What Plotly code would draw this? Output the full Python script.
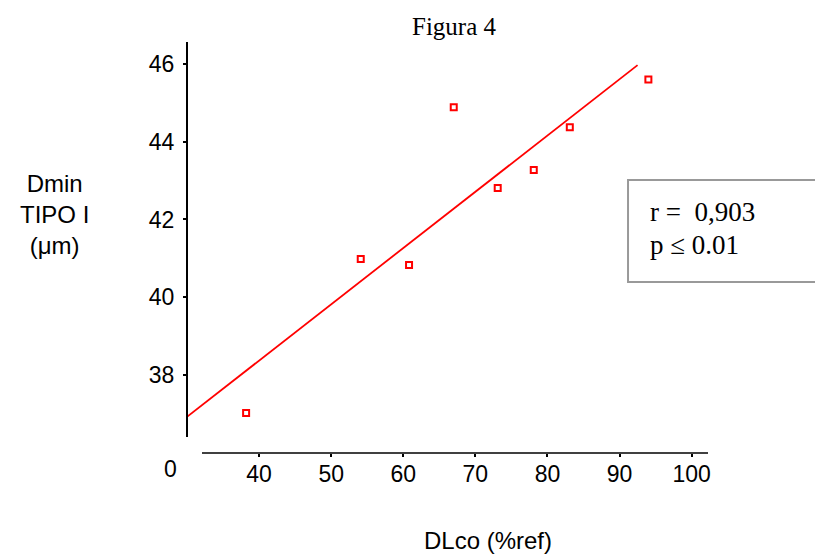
import plotly.graph_objects as go

# Data
dlco = [38.2, 54.1, 60.8, 67.0, 73.1, 78.1, 83.1, 94.0]
dmin = [37.02, 40.98, 40.83, 44.89, 42.81, 43.27, 44.37, 45.60]
fit_x = [30.0, 92.5]
fit_y = [36.92, 45.97]
x_ticks = [40, 50, 60, 70, 80, 90, 100]
y_ticks = [38, 40, 42, 44, 46]

SANS = "Liberation Sans, Arial, sans-serif"
SERIF = "Liberation Serif, Times New Roman, serif"

fig = go.Figure()
fig.add_trace(go.Scatter(x=fit_x, y=fit_y, mode="lines",
                         line=dict(color="#ff0000", width=1.8),
                         hoverinfo="skip", showlegend=False))
fig.add_trace(go.Scatter(x=dlco, y=dmin, mode="markers",
                         marker=dict(symbol="square-open", size=6,
                                     color="#ff0000",
                                     line=dict(color="#ff0000", width=2)),
                         showlegend=False))

fig.update_layout(
    width=815, height=552,
    margin=dict(l=179, r=115, t=34, b=107),
    paper_bgcolor="white", plot_bgcolor="white",
    font=dict(family=SANS, color="black"),
    xaxis=dict(range=[30, 102.27], tickvals=x_ticks,
               ticktext=[str(v) for v in x_ticks],
               showgrid=False, zeroline=False, showline=False,
               ticks="outside", ticklen=3, tickwidth=2, tickcolor="black",
               ticklabelstandoff=-3,
               tickfont=dict(family=SANS, size=23, color="black")),
    yaxis=dict(range=[35.99, 46.566], tickvals=y_ticks,
               ticktext=[str(v) for v in y_ticks],
               showgrid=False, zeroline=False, showline=False,
               ticks="outside", ticklen=3, tickwidth=2, tickcolor="black",
               ticklabelstandoff=4,
               tickfont=dict(family=SANS, size=23, color="black")),
    shapes=[
        dict(type="line", xref="paper", yref="paper", x0=0, x1=0,
             y0=0.039, y1=1, line=dict(color="black", width=2)),
        dict(type="line", xref="paper", yref="paper", x0=0.0288, x1=1,
             y0=0, y1=0, line=dict(color="black", width=1.5)),
        dict(type="rect", xref="paper", yref="paper", x0=0.8465, x1=1.211,
             y0=0.416, y1=0.664, line=dict(color="#999999", width=2),
             fillcolor="rgba(0,0,0,0)"),
    ],
    annotations=[
        dict(text="Figura 4", xref="paper", yref="paper", x=0.514, y=1.0365,
             xanchor="center", yanchor="middle", showarrow=False,
             font=dict(family=SERIF, size=25, color="black")),
        dict(text="Dmin<br>TIPO I<br>(μm)", xref="paper", yref="paper",
             x=-0.254, y=0.5815, xanchor="center", yanchor="middle",
             showarrow=False, align="center",
             font=dict(family=SANS, size=24, color="black")),
        dict(text="DLco (%ref)", xref="paper", yref="paper", x=0.578, y=-0.214,
             xanchor="center", yanchor="middle", showarrow=False,
             font=dict(family=SANS, size=24, color="black")),
        dict(text="0", xref="paper", yref="paper", x=-0.0326, y=-0.04,
             xanchor="center", yanchor="middle", showarrow=False,
             font=dict(family=SANS, size=23, color="black")),
        dict(text="r =  0,903", xref="paper", yref="paper", x=0.885, y=0.586,
             xanchor="left", yanchor="middle", showarrow=False,
             font=dict(family=SERIF, size=27, color="black")),
        dict(text="p ≤ 0.01", xref="paper", yref="paper", x=0.885, y=0.506,
             xanchor="left", yanchor="middle", showarrow=False,
             font=dict(family=SERIF, size=27, color="black")),
    ],
)

fig.write_html("out.html")
